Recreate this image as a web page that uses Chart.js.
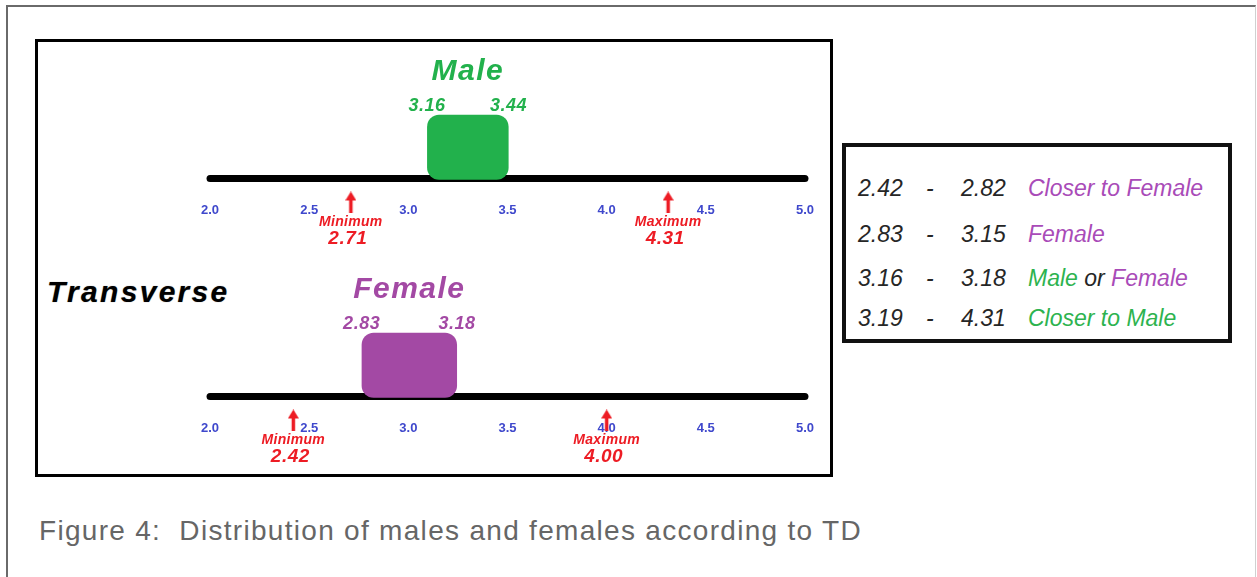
<!DOCTYPE html>
<html>
<head>
<meta charset="utf-8">
<script src="https://cdn.jsdelivr.net/npm/chart.js@4.4.1/dist/chart.umd.min.js"></script>
<style>
  html, body { margin: 0; padding: 0; background: #fff; }
  body { width: 1257px; height: 577px; position: relative; overflow: hidden; font-family: "Liberation Sans", Arial, sans-serif; }
  .frame { position: absolute; left: 6px; top: 5px; width: 1250px; height: 640px; box-sizing: border-box;
           border-top: 2px solid #6a6a6a; border-left: 2px solid #6a6a6a; border-right: 1px solid #d0d0d0; }
  .panel { position: absolute; left: 35px; top: 39px; width: 798px; height: 438px; box-sizing: border-box; border: 3px solid #000; }
  canvas { position: absolute; }
  #maleChart { left: 177px; top: 42px; }
  #femaleChart { left: 177px; top: 260px; }
  .side { position: absolute; left: 47px; top: 277px; font: italic bold 30px/30px "Liberation Sans", Arial, sans-serif;
          letter-spacing: 2.3px; color: #000; text-shadow: 0 0 1px #888; white-space: nowrap; }
  .key { position: absolute; left: 842px; top: 143px; width: 390px; height: 200px; box-sizing: border-box; border: 4px solid #111; }
  .row { position: absolute; left: 0; height: 26px; font: italic 23px/26px "Liberation Sans", Arial, sans-serif; color: #262626; white-space: nowrap; }
  .row span { position: absolute; top: 0; }
  .caption { position: absolute; left: 39px; top: 517px; font: 28px/28px "Liberation Sans", Arial, sans-serif; letter-spacing: 1.3px;
             color: #666; white-space: nowrap; }
</style>
</head>
<body>
<div class="frame"></div>
<div class="panel"></div>
<div class="side">Transverse</div>
<canvas id="maleChart" width="661" height="208"></canvas>
<canvas id="femaleChart" width="661" height="208"></canvas>
<div class="key" id="key"></div>
<div class="caption">Figure 4:&nbsp; Distribution of males and females according to TD</div>

<script>
// Distribution of males and females according to TD

// tick labels on both scales
const axisTicks = [2.0, 2.5, 3.0, 3.5, 4.0, 4.5, 5.0];

// one entry per group: box range, minimum and maximum arrows
const groups = ['Male', 'Female'];
const rangeLow = [3.16, 2.83];
const rangeHigh = [3.44, 3.18];
const minimums = [2.71, 2.42];
const maximums = [4.31, 4.00];

// side key
const keyFrom = ['2.42', '2.83', '3.16', '3.19'];
const keyTo = ['2.82', '3.15', '3.18', '4.31'];
const keyLabels = [['Closer to Female'], ['Female'], ['Male', 'or', 'Female'], ['Closer to Male']];

const GREEN = '#22B14C';
const PURPLE = '#A349A4';
const RED = '#ED1C24';
const BLUE = '#3F48CC';
const FONT = '"Liberation Sans", Arial, sans-serif';

// vertical placement in the hidden y scale (1 unit ~ 1px, axis line at 0)
const BOX_Y = 31;
const TITLE_Y = 106;
const VALUE_Y = 72;
const ARROW_Y = -24;
const WORD_Y = -44;
const NUMBER_Y = -60;
const INFLATE = 13;

function makeArrow() {
    const c = document.createElement('canvas');
    c.width = 11;
    c.height = 22;
    const g = c.getContext('2d');
    g.fillStyle = RED;
    g.beginPath();
    g.moveTo(5.5, 0);
    g.lineTo(11, 9);
    g.lineTo(0, 9);
    g.closePath();
    g.fill();
    g.fillRect(3.75, 8, 3.5, 14);
    return c;
}

// titles, range values and min / max captions
const markLabels = {
    id: 'markLabels',
    afterDatasetsDraw(chart, args, opts) {
        const ctx = chart.ctx;
        const y = chart.scales.y;
        const bar = chart.getDatasetMeta(1).data[0];
        const left = Math.min(bar.x, bar.base) - INFLATE;
        const right = Math.max(bar.x, bar.base) + INFLATE;
        const range = chart.data.datasets[1].data[0].x;

        ctx.save();
        ctx.textAlign = 'center';
        ctx.textBaseline = 'middle';
        ctx.fillStyle = opts.colour;
        ctx.font = 'italic bold 30px ' + FONT;
        ctx.letterSpacing = '1.5px';
        ctx.fillText(opts.title, (left + right) / 2, y.getPixelForValue(TITLE_Y));

        ctx.font = 'italic bold 18px ' + FONT;
        ctx.letterSpacing = '0.5px';
        ctx.fillText(range[0].toFixed(2), left, y.getPixelForValue(VALUE_Y));
        ctx.fillText(range[1].toFixed(2), right, y.getPixelForValue(VALUE_Y));

        ctx.fillStyle = RED;
        const points = chart.getDatasetMeta(2).data;
        const raw = chart.data.datasets[2].data;
        points.forEach((p, k) => {
            ctx.font = 'italic bold 14px ' + FONT;
            ctx.letterSpacing = '0.3px';
            ctx.fillText(k === 0 ? 'Minimum' : 'Maximum', p.x, y.getPixelForValue(WORD_Y));
            ctx.font = 'italic bold 19px ' + FONT;
            ctx.letterSpacing = '0.5px';
            ctx.fillText(raw[k].x.toFixed(2), p.x - 3, y.getPixelForValue(NUMBER_Y));
        });
        ctx.restore();
    }
};

function createGroupChart(canvasId, i, colour) {
    const ctx = document.getElementById(canvasId);
    const arrow = makeArrow();

    return new Chart(ctx, {
        type: 'bar',
        plugins: [markLabels],
        data: {
            datasets: [
                {
                    // the number line
                    type: 'line',
                    data: [{ x: axisTicks[0], y: 0 }, { x: axisTicks[axisTicks.length - 1], y: 0 }],
                    borderColor: '#000',
                    borderWidth: 7,
                    borderCapStyle: 'round',
                    pointRadius: 0,
                    clip: false,
                    order: 3
                },
                {
                    // the range box
                    type: 'bar',
                    indexAxis: 'y',
                    data: [{ x: [rangeLow[i], rangeHigh[i]], y: BOX_Y }],
                    backgroundColor: colour,
                    borderWidth: 0,
                    borderRadius: 12,
                    borderSkipped: false,
                    barThickness: 39,
                    inflateAmount: INFLATE,
                    clip: false,
                    order: 2
                },
                {
                    // minimum / maximum arrows
                    type: 'scatter',
                    data: [{ x: minimums[i], y: ARROW_Y }, { x: maximums[i], y: ARROW_Y }],
                    pointStyle: arrow,
                    pointRadius: 40,   // keeps the points drawn below the chart area
                    clip: false,
                    order: 1
                }
            ]
        },
        options: {
            responsive: false,
            animation: false,
            events: [],
            layout: { autoPadding: false, padding: { left: 0, right: 0, top: 0, bottom: 8 } },
            scales: {
                x: {
                    type: 'linear',
                    position: 'bottom',
                    offset: false,
                    min: axisTicks[0],
                    max: axisTicks[axisTicks.length - 1],
                    grid: { display: false, drawTicks: false, offset: false },
                    border: { display: false },
                    afterBuildTicks: scale => { scale.ticks = axisTicks.map(v => ({ value: v })); },
                    ticks: {
                        padding: 24,
                        color: BLUE,
                        autoSkip: false,
                        maxRotation: 0,
                        font: { family: FONT, size: 13, weight: 'bold' },
                        callback: v => Number(v).toFixed(1)
                    }
                },
                y: { type: 'linear', display: false, offset: false, grid: { offset: false }, min: 0, max: 136 }
            },
            plugins: {
                legend: { display: false },
                tooltip: { enabled: false },
                markLabels: { title: groups[i], colour: colour }
            }
        }
    });
}

createGroupChart('maleChart', 0, GREEN);
createGroupChart('femaleChart', 1, PURPLE);

// side key
const ROW_TOPS = [28, 74, 118, 158];
const key = document.getElementById('key');
keyFrom.forEach((from, r) => {
    const row = document.createElement('div');
    row.className = 'row';
    row.style.top = ROW_TOPS[r] + 'px';
    const parts = [[from, 12], ['-', 80], [keyTo[r], 115]];
    parts.forEach(([t, left]) => {
        const s = document.createElement('span');
        s.textContent = t;
        s.style.left = left + 'px';
        row.appendChild(s);
    });
    const label = document.createElement('span');
    label.style.left = '182px';
    keyLabels[r].forEach((word, w) => {
        const s = document.createElement('span');
        s.style.position = 'static';
        s.textContent = (w > 0 ? ' ' : '') + word + (w < keyLabels[r].length - 1 ? ' ' : '');
        s.style.color = word.includes('Female') ? '#A94BB8' : word.includes('Male') ? '#2DB34F' : '#262626';
        label.appendChild(s);
    });
    row.appendChild(label);
    key.appendChild(row);
});
</script>
</body>
</html>
